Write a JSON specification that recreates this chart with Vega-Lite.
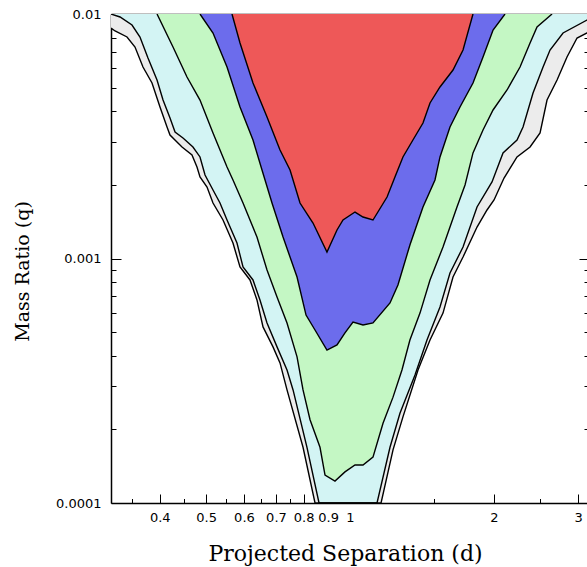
{
  "$schema": "https://vega.github.io/schema/vega-lite/v6.json",
  "width": 478,
  "height": 489,
  "autosize": {"type": "none"},
  "padding": {"left": 111, "top": 14, "right": 0, "bottom": 64},
  "background": "white",
  "config": {"view": {"stroke": null}},
  "data": {"values": [
    {"c":"1","d":0.3162,"q":0.008765},{"c":"1","d":0.3225,"q":0.008522},{"c":"1","d":0.3416,"q":0.008053},{"c":"1","d":0.3550,"q":0.007328},{"c":"1","d":0.3689,"q":0.006069},{"c":"1","d":0.3853,"q":0.005222},{"c":"1","d":0.4004,"q":0.004165},{"c":"1","d":0.4142,"q":0.003449},{"c":"1","d":0.4202,"q":0.003199},{"c":"1","d":0.4452,"q":0.002858},{"c":"1","d":0.4671,"q":0.002651},{"c":"1","d":0.4785,"q":0.002367},{"c":"1","d":0.4855,"q":0.002154},{"c":"1","d":0.5022,"q":0.001961},{"c":"1","d":0.5169,"q":0.001686},{"c":"1","d":0.5424,"q":0.001437},{"c":"1","d":0.5691,"q":0.001157},{"c":"1","d":0.5887,"q":0.000923},{"c":"1","d":0.6177,"q":0.000817},{"c":"1","d":0.6388,"q":0.000677},{"c":"1","d":0.6577,"q":0.000525},{"c":"1","d":0.6901,"q":0.000435},{"c":"1","d":0.7138,"q":0.000374},{"c":"1","d":0.7383,"q":0.000290},{"c":"1","d":0.7975,"q":0.000169},{"c":"1","d":0.8449,"q":0.0001},{"c":"1","d":1.1613,"q":0.0001},{"c":"1","d":1.2303,"q":0.000165},{"c":"1","d":1.2906,"q":0.000225},{"c":"1","d":1.3877,"q":0.000350},{"c":"1","d":1.4702,"q":0.000464},{"c":"1","d":1.5652,"q":0.000598},{"c":"1","d":1.6425,"q":0.000840},{"c":"1","d":1.7237,"q":0.001014},{"c":"1","d":1.8440,"q":0.001345},{"c":"1","d":1.9349,"q":0.001579},{"c":"1","d":2.0013,"q":0.001735},{"c":"1","d":2.1001,"q":0.002134},{"c":"1","d":2.2357,"q":0.002602},{"c":"1","d":2.3806,"q":0.002858},{"c":"1","d":2.4980,"q":0.003260},{"c":"1","d":2.5834,"q":0.004447},{"c":"1","d":2.7113,"q":0.005372},{"c":"1","d":2.8444,"q":0.006672},{"c":"1","d":2.9854,"q":0.007977},{"c":"1","d":3.1320,"q":0.008363},{"c":"1","d":3.1623,"q":0.008442},
    {"c":"2","d":0.3162,"q":0.01},{"c":"2","d":0.3303,"q":0.009721},{"c":"2","d":0.3499,"q":0.009016},{"c":"2","d":0.3636,"q":0.008053},{"c":"2","d":0.3779,"q":0.006607},{"c":"2","d":0.3947,"q":0.005372},{"c":"2","d":0.4063,"q":0.004447},{"c":"2","d":0.4202,"q":0.003756},{"c":"2","d":0.4305,"q":0.003291},{"c":"2","d":0.4473,"q":0.003110},{"c":"2","d":0.4693,"q":0.002858},{"c":"2","d":0.4855,"q":0.002602},{"c":"2","d":0.4974,"q":0.002195},{"c":"2","d":0.5169,"q":0.001906},{"c":"2","d":0.5346,"q":0.001686},{"c":"2","d":0.5530,"q":0.001437},{"c":"2","d":0.5802,"q":0.001157},{"c":"2","d":0.5973,"q":0.000923},{"c":"2","d":0.6267,"q":0.000817},{"c":"2","d":0.6481,"q":0.000677},{"c":"2","d":0.6705,"q":0.000545},{"c":"2","d":0.7036,"q":0.000435},{"c":"2","d":0.7383,"q":0.000350},{"c":"2","d":0.7601,"q":0.000290},{"c":"2","d":0.8128,"q":0.000169},{"c":"2","d":0.8614,"q":0.0001},{"c":"2","d":1.1390,"q":0.0001},{"c":"2","d":1.2125,"q":0.000169},{"c":"2","d":1.2721,"q":0.000233},{"c":"2","d":1.3677,"q":0.000334},{"c":"2","d":1.4490,"q":0.000464},{"c":"2","d":1.5427,"q":0.000633},{"c":"2","d":1.6188,"q":0.000872},{"c":"2","d":1.7237,"q":0.001114},{"c":"2","d":1.8440,"q":0.001624},{"c":"2","d":1.9820,"q":0.002056},{"c":"2","d":2.0899,"q":0.002702},{"c":"2","d":2.2357,"q":0.003052},{"c":"2","d":2.3015,"q":0.003449},{"c":"2","d":2.4150,"q":0.004753},{"c":"2","d":2.5345,"q":0.006069},{"c":"2","d":2.6211,"q":0.007124},{"c":"2","d":2.7907,"q":0.008363},{"c":"2","d":3.1320,"q":0.009451},{"c":"2","d":3.1623,"q":0.009541},
    {"c":"3","d":0.3947,"q":0.01},{"c":"3","d":0.4263,"q":0.007328},{"c":"3","d":0.4560,"q":0.005526},{"c":"3","d":0.4855,"q":0.004447},{"c":"3","d":0.5169,"q":0.003260},{"c":"3","d":0.5530,"q":0.002367},{"c":"3","d":0.5691,"q":0.002094},{"c":"3","d":0.5973,"q":0.001686},{"c":"3","d":0.6388,"q":0.001224},{"c":"3","d":0.6705,"q":0.000897},{"c":"3","d":0.7036,"q":0.000696},{"c":"3","d":0.7383,"q":0.000545},{"c":"3","d":0.7748,"q":0.000396},{"c":"3","d":0.7975,"q":0.000290},{"c":"3","d":0.8249,"q":0.000219},{"c":"3","d":0.8654,"q":0.000169},{"c":"3","d":0.8866,"q":0.000130},{"c":"3","d":0.9302,"q":0.000123},{"c":"3","d":0.9761,"q":0.000134},{"c":"3","d":1.0244,"q":0.000143},{"c":"3","d":1.0646,"q":0.000143},{"c":"3","d":1.1171,"q":0.000154},{"c":"3","d":1.1724,"q":0.000212},{"c":"3","d":1.2303,"q":0.000271},{"c":"3","d":1.2844,"q":0.000350},{"c":"3","d":1.3346,"q":0.000464},{"c":"3","d":1.4009,"q":0.000598},{"c":"3","d":1.4702,"q":0.000817},{"c":"3","d":1.5652,"q":0.001114},{"c":"3","d":1.6743,"q":0.001624},{"c":"3","d":1.7404,"q":0.001998},{"c":"3","d":1.8085,"q":0.002702},{"c":"3","d":1.8979,"q":0.003353},{"c":"3","d":1.9920,"q":0.004050},{"c":"3","d":2.1307,"q":0.004889},{"c":"3","d":2.2684,"q":0.006069},{"c":"3","d":2.3806,"q":0.007608},{"c":"3","d":2.4620,"q":0.008848},{"c":"3","d":2.6466,"q":0.01},
    {"c":"4","d":0.4855,"q":0.01},{"c":"4","d":0.5169,"q":0.008363},{"c":"4","d":0.5530,"q":0.006069},{"c":"4","d":0.5887,"q":0.004165},{"c":"4","d":0.6267,"q":0.003052},{"c":"4","d":0.6545,"q":0.002301},{"c":"4","d":0.6868,"q":0.001686},{"c":"4","d":0.7243,"q":0.001224},{"c":"4","d":0.7748,"q":0.000840},{"c":"4","d":0.8091,"q":0.000587},{"c":"4","d":0.8449,"q":0.000510},{"c":"4","d":0.8950,"q":0.000422},{"c":"4","d":0.9393,"q":0.000443},{"c":"4","d":0.9761,"q":0.000496},{"c":"4","d":1.0146,"q":0.000550},{"c":"4","d":1.0646,"q":0.000535},{"c":"4","d":1.1171,"q":0.000545},{"c":"4","d":1.2125,"q":0.000658},{"c":"4","d":1.2598,"q":0.000779},{"c":"4","d":1.3346,"q":0.001136},{"c":"4","d":1.4213,"q":0.001624},{"c":"4","d":1.5059,"q":0.002094},{"c":"4","d":1.5427,"q":0.002602},{"c":"4","d":1.6188,"q":0.003449},{"c":"4","d":1.6988,"q":0.004165},{"c":"4","d":1.8085,"q":0.005222},{"c":"4","d":1.8979,"q":0.006672},{"c":"4","d":1.9920,"q":0.008603},{"c":"4","d":2.1102,"q":0.01},
    {"c":"5","d":0.5664,"q":0.01},{"c":"5","d":0.5887,"q":0.007608},{"c":"5","d":0.6267,"q":0.005222},{"c":"5","d":0.6705,"q":0.003791},{"c":"5","d":0.7138,"q":0.002779},{"c":"5","d":0.7491,"q":0.002301},{"c":"5","d":0.7860,"q":0.001686},{"c":"5","d":0.8368,"q":0.001397},{"c":"5","d":0.8950,"q":0.001063},{"c":"5","d":0.9393,"q":0.001308},{"c":"5","d":0.9669,"q":0.001437},{"c":"5","d":1.0244,"q":0.001549},{"c":"5","d":1.0646,"q":0.001478},{"c":"5","d":1.1171,"q":0.001437},{"c":"5","d":1.1954,"q":0.001784},{"c":"5","d":1.2418,"q":0.002154},{"c":"5","d":1.2906,"q":0.002602},{"c":"5","d":1.3541,"q":0.003052},{"c":"5","d":1.4213,"q":0.003582},{"c":"5","d":1.4702,"q":0.004325},{"c":"5","d":1.5427,"q":0.005029},{"c":"5","d":1.6425,"q":0.005901},{"c":"5","d":1.7237,"q":0.007124},{"c":"5","d":1.8085,"q":0.01}
  ]},
  "layer": [
    {
      "mark": {"type": "area", "clip": true},
      "encoding": {
        "x": {"field": "d", "type": "quantitative",
          "scale": {"type": "log", "domain": [0.316228, 3.162278], "nice": false},
          "axis": {"orient": "bottom", "title": "Projected Separation (d)",
            "values": [0.35,0.4,0.45,0.5,0.55,0.6,0.65,0.7,0.75,0.8,0.9,1,1.5,2,2.5,3],
            "format": "~g",
            "labelExpr": "indexof([0.4,0.5,0.6,0.7,0.8,0.9,1,2,3], datum.value) >= 0 ? datum.label : ''",
            "tickSize": {"condition": {"test": "indexof([0.4,0.5,0.6,0.7,0.8,0.9,1,2,3], datum.value) >= 0", "value": -9}, "value": -4.5},
            "labelPadding": 17, "labelOverlap": false, "labelFlush": false,
            "labelFont": "DejaVu Sans", "labelFontSize": 13, "labelColor": "black",
            "tickColor": "black", "tickWidth": 1, "domainColor": "black", "domainWidth": 1.5,
            "grid": false,
            "titleFont": "DejaVu Serif", "titleFontSize": 22, "titleFontWeight": "normal", "titleColor": "black",
            "titleBaseline": "alphabetic", "titleY": 57, "titleX": 234}},
        "y": {"field": "q", "type": "quantitative",
          "scale": {"type": "log", "domain": [0.0001, 0.01], "nice": false},
          "axis": {"orient": "left", "title": "Mass Ratio (q)",
            "values": [0.0001,0.0002,0.0003,0.0004,0.0005,0.0006,0.0007,0.0008,0.0009,0.001,0.002,0.003,0.004,0.005,0.006,0.007,0.008,0.009,0.01],
            "format": "~g",
            "labelExpr": "(datum.value == 0.01 || datum.value == 0.001 || datum.value == 0.0001) ? datum.label : ''",
            "tickSize": {"condition": {"test": "datum.value == 0.01 || datum.value == 0.001 || datum.value == 0.0001", "value": -10}, "value": -5},
            "labelPadding": 20, "labelOverlap": false, "labelFlush": false,
            "labelFont": "DejaVu Sans", "labelFontSize": 13, "labelColor": "black",
            "tickColor": "black", "tickWidth": 1, "domainColor": "black", "domainWidth": 1.5,
            "grid": false,
            "titleFont": "DejaVu Serif", "titleFontSize": 19, "titleFontWeight": "normal", "titleColor": "black",
            "titleBaseline": "alphabetic", "titleX": -83, "titleY": 257}},
        "y2": {"datum": 0.01},
        "color": {"field": "c", "type": "nominal",
          "scale": {"domain": ["1","2","3","4","5"], "range": ["#ececec","#d3f4f4","#c4f7c4","#6c6cec","#ee5858"]},
          "legend": null}
      }
    },
    {
      "mark": {"type": "line", "clip": true, "color": "black", "strokeWidth": 1.4},
      "encoding": {
        "x": {"field": "d", "type": "quantitative",
          "axis": {"orient": "top", "title": null, "labels": false,
            "values": [0.35,0.4,0.45,0.5,0.55,0.6,0.65,0.7,0.75,0.8,0.9,1,1.5,2,2.5,3],
            "tickSize": {"condition": {"test": "indexof([0.4,0.5,0.6,0.7,0.8,0.9,1,2,3], datum.value) >= 0", "value": -9}, "value": -4.5},
            "tickColor": "black", "domainColor": "black", "domainWidth": 1.5, "grid": false}},
        "y": {"field": "q", "type": "quantitative",
          "axis": {"orient": "right", "title": null, "labels": false,
            "values": [0.0001,0.0002,0.0003,0.0004,0.0005,0.0006,0.0007,0.0008,0.0009,0.001,0.002,0.003,0.004,0.005,0.006,0.007,0.008,0.009,0.01],
            "tickSize": {"condition": {"test": "datum.value == 0.01 || datum.value == 0.001 || datum.value == 0.0001", "value": -10}, "value": -5},
            "tickColor": "black", "domainColor": "black", "domainWidth": 1.5, "grid": false}},
        "detail": {"field": "c"}
      }
    }
  ],
  "resolve": {"axis": {"x": "independent", "y": "independent"}}
}
